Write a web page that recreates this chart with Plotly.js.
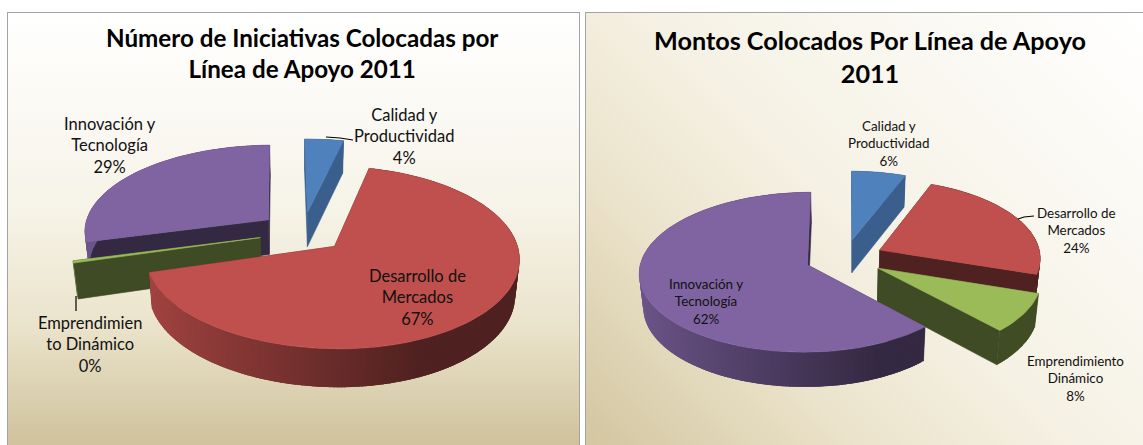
<!DOCTYPE html>
<html><head><meta charset="utf-8">
<script src="https://cdn.plot.ly/plotly-3.0.1.min.js"></script>
<style>
html,body{margin:0;padding:0;width:1143px;height:445px;overflow:hidden;background:#fff}
.panel{position:absolute;box-sizing:border-box;border:1.5px solid #a3a3a3;border-bottom:none}
#p1{left:7px;top:12px;width:573px;height:433px;background:linear-gradient(180deg,#fff 0%,#f6f3e8 45%,#ebe4cc 72%,#cfc29c 100%)}
#p2{left:585px;top:12px;width:558px;height:433px;border-right:none;background:linear-gradient(225deg,#fff 0%,#f5f1e4 50%,#ebe3cb 72%,#d3c6a0 100%)}
#chart{position:absolute;left:0;top:0;width:1143px;height:445px}
</style></head><body>
<div class="panel" id="p1"></div><div class="panel" id="p2"></div><div id="chart"></div>
<script>
const categorias = ["Calidad y Productividad","Desarrollo de Mercados","Emprendimiento Dinámico","Innovación y Tecnología"];
const iniciativas = [4, 67, 0.4, 29];
const montos = [6, 24, 8, 62];
const etiquetasIniciativas = ["Calidad y<br>Productividad","Desarrollo de<br>Mercados","Emprendimien<br>to Dinámico","Innovación y<br>Tecnología"];
const etiquetasMontos = ["Calidad y<br>Productividad","Desarrollo de<br>Mercados","Emprendimiento<br>Dinámico","Innovación y<br>Tecnología"];
const tituloIniciativas = "Número de Iniciativas Colocadas por<br>Línea de Apoyo 2011";
const tituloMontos = "Montos Colocados Por Línea de Apoyo<br>2011";
const colores = ["#4F81BD","#C0504D","#9BBB59","#8064A2"];
const sombraCorte = [0.74,0.41,0.40,0.41];

const FONT = "Lato, 'Open Sans', sans-serif";
const pies = [
  {values:iniciativas, labels:etiquetasIniciativas, cx:303, cy:232, R:185, xr:0.97, k:0.467, p:0.12, e:44, d:35, start:-90.9,
   order:[0,3,2,1], size:16.5, lab:[[404,136],[417,297],[90,344],[110,145]], title:tituloIniciativas, tx:302, ty:52.5, ts:24.2},
  {values:montos, labels:etiquetasMontos, cx:845, cy:258, R:166, xr:0.97, k:0.47, p:0.09, e:40, d:33, start:-90,
   order:[0,1,2,3], size:13.4, lab:[[889,143],[1076,230],[1075,378],[706,301]], title:tituloMontos, tx:870, ty:56, ts:25.2}
];
const leaders = [
  [[326,137],[340,138],[353,140]],
  [[76,296],[76,311]],
  [[1018,219],[1024,217],[1034,216]]
];
const rad = a => a*Math.PI/180;
function hex(c,f){
  const n=parseInt(c.slice(1),16),ch=[n>>16,(n>>8)&255,n&255].map(v=>Math.round(v*f));
  return `rgb(${ch[0]},${ch[1]},${ch[2]})`;
}
const traces=[], annotations=[];
function poly(pts,color,name,hover,lw){
  traces.push({type:"scatter",mode:"lines",x:pts.map(q=>q[0]),y:pts.map(q=>q[1]),fill:"toself",fillcolor:color,
    line:{color:color,width:lw===undefined?0.6:lw},name:name,showlegend:false,hoverinfo:hover?"text":"skip",text:hover||undefined,hoveron:"fills"});
}
pies.forEach(P=>{
  const total=P.values.reduce((a,b)=>a+b,0);
  let a=P.start; const spans=P.values.map(v=>{const s=[a,a+360*v/total];a=s[1];return s;});
  const proj=(X,Y,low)=>{
    const s=1/(1-P.p*Y/P.R), f=low?0.98:1, Xs=X>0?X*P.xr:X;
    return [P.cx+Xs*s*f, P.cy+Y*P.k*s*f+(low?P.d*s:0)];
  };
  P.order.forEach(i=>{
    const [a0,a1]=spans[i], mid=rad((a0+a1)/2);
    const ox=P.e*Math.cos(mid), oy=P.e*Math.sin(mid);
    const pt=(deg,low)=>proj(ox+P.R*Math.cos(rad(deg)),oy+P.R*Math.sin(rad(deg)),low);
    const apex=low=>proj(ox,oy,low);
    const dark=hex(colores[i],sombraCorte[i]);
    [a0,a1].forEach(e=>poly([apex(false),pt(e,false),pt(e,true),apex(true),apex(false)],dark,categorias[i]));
    const n=Math.max(1,Math.ceil((a1-a0)/1));
    for(let j=0;j<n;j++){
      const b0=a0+(a1-a0)*j/n,b1=Math.min(a1,a0+(a1-a0)*(j+1)/n+1.5),c=Math.cos(rad(a0+(a1-a0)*(j+0.5)/n));
      const sh=c<0.4?0.41+0.44*(0.4-c)/1.4:0.41;
      const col=hex(colores[i],i===0?Math.max(sh,0.74):sh);
      poly([pt(b0,false),pt(b1,false),pt(b1,true),pt(b0,true),pt(b0,false)],col,categorias[i],undefined,0);
    }
    const top=[apex(false)];
    const m=Math.max(2,Math.ceil((a1-a0)/1.5));
    for(let j=0;j<=m;j++) top.push(pt(a0+(a1-a0)*j/m,false));
    top.push(apex(false));
    poly(top,colores[i],categorias[i],categorias[i]+": "+Math.round(P.values[i]/total*100)+"%");
  });
  P.values.forEach((v,i)=>annotations.push({x:P.lab[i][0],y:P.lab[i][1],xref:"x",yref:"y",showarrow:false,align:"center",
    xanchor:"center",yanchor:"middle",text:P.labels[i]+"<br>"+Math.round(v/total*100)+"%",font:{family:FONT,size:P.size,color:"#111"}}));
  annotations.push({x:P.tx,y:P.ty,xref:"x",yref:"y",showarrow:false,align:"center",xanchor:"center",yanchor:"middle",
    text:"<b>"+P.title+"</b>",font:{family:FONT,size:P.ts,color:"#000"}});
});
leaders.forEach(l=>traces.push({type:"scatter",mode:"lines",x:l.map(q=>q[0]),y:l.map(q=>q[1]),line:{color:"#000",width:1.2},showlegend:false,hoverinfo:"skip"}));
Plotly.newPlot("chart",traces,{
  width:1143,height:445,margin:{l:0,r:0,t:0,b:0},paper_bgcolor:"rgba(0,0,0,0)",plot_bgcolor:"rgba(0,0,0,0)",showlegend:false,
  xaxis:{range:[0,1143],visible:false,fixedrange:true},yaxis:{range:[445,0],visible:false,fixedrange:true},
  annotations:annotations
},{displayModeBar:false});
</script></body></html>
